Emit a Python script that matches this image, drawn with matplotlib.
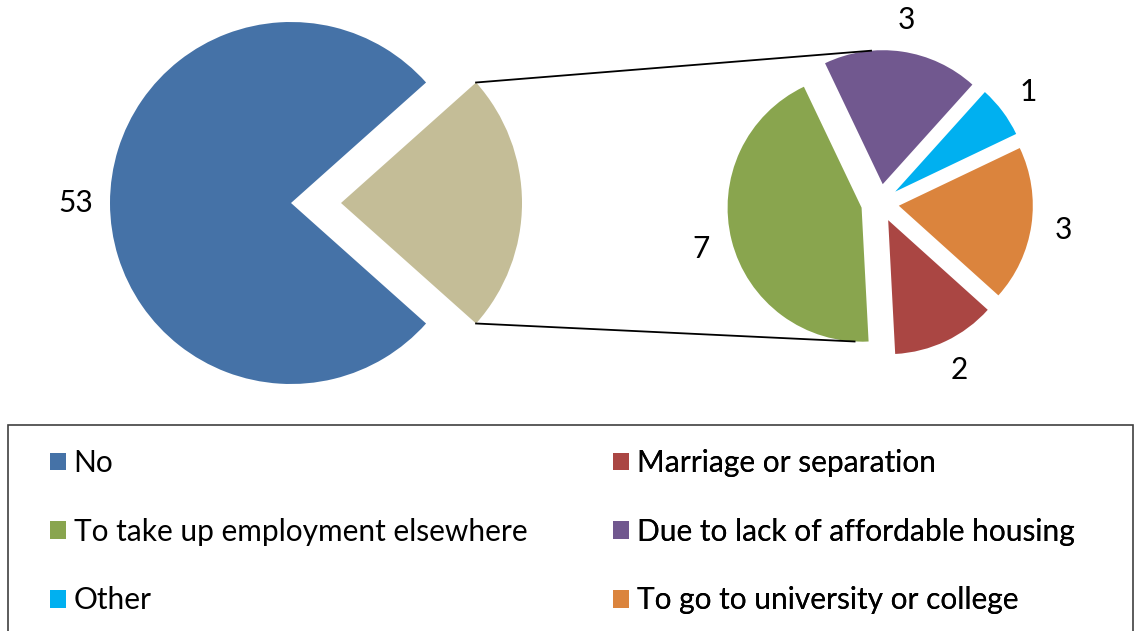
import numpy as np
import matplotlib.pyplot as plt
from matplotlib.patches import Patch, Rectangle

plt.rcParams['font.family'] = 'Lato'

# Main pie: "No" against all reasons for moving, combined into one slice
main_labels = ['No', 'Reasons for moving']
main_values = [53, 16]
main_colors = ['#4572A7', '#C4BD97']

# Breakdown of the combined slice, drawn as the second pie
reason_labels = ['To take up employment elsewhere', 'Marriage or separation',
                 'To go to university or college', 'Other',
                 'Due to lack of affordable housing']
reason_values = [7, 2, 3, 1, 3]
reason_colors = ['#89A54E', '#AA4643', '#DB843D', '#00B0F0', '#71588F']

legend_left = ['No', 'To take up employment elsewhere', 'Other']
legend_right = ['Marriage or separation', 'Due to lack of affordable housing',
                'To go to university or college']

color_of = dict(zip(main_labels + reason_labels, main_colors + reason_colors))

fig = plt.figure(figsize=(11.37, 6.31), dpi=100)
ax = fig.add_axes([0, 0, 1, 1])

total = sum(main_values)
sub_total = sum(reason_values)
fs = 21.5

# axes units are pixels here, so explode is given in pixels too
main_r = 181
main_wedges, _, main_auto = ax.pie(
    main_values, colors=main_colors, center=(291, 428), radius=main_r,
    startangle=180 * main_values[1] / total, explode=[0, 50],
    autopct=lambda p: f'{round(p * total / 100)}' if p > 50 else '',
    pctdistance=1.19, textprops=dict(fontsize=fs, color='black'))

sub_r = 134
sub_wedges, _, sub_auto = ax.pie(
    reason_values, colors=reason_colors, center=(880, 428), radius=sub_r,
    startangle=115.5, explode=[19] * len(reason_values),
    autopct=lambda p: f'{round(p * sub_total / 100)}',
    pctdistance=1.24, textprops=dict(fontsize=fs, color='black'))


def arc_point(w, ang):
    t = np.deg2rad(ang)
    return w.center[0] + w.r * np.cos(t), w.center[1] + w.r * np.sin(t)


# connector lines from the combined slice to the breakdown pie
other = main_wedges[1]
top_a = arc_point(other, other.theta2)
bot_a = arc_point(other, other.theta1)
top_b = arc_point(sub_wedges[4], 95)
bot_b = arc_point(sub_wedges[0], 267)
ax.plot([top_a[0], top_b[0]], [top_a[1], top_b[1]], color='black', lw=1.3)
ax.plot([bot_a[0], bot_b[0]], [bot_a[1], bot_b[1]], color='black', lw=1.3)

ax.set_xlim(0, 1137)
ax.set_ylim(0, 631)
ax.set_aspect('equal')
ax.axis('off')

# legend box (runs off the bottom edge)
ax.add_patch(Rectangle((8, -20), 1125, 631 - 425 + 20, fill=False,
                       ec='#404040', lw=1.2, clip_on=False))

for names, x in [(legend_left, 50), (legend_right, 613)]:
    handles = [Patch(facecolor=color_of[n], edgecolor='none') for n in names]
    leg = ax.legend(handles, names, loc='upper left', bbox_to_anchor=(x, 631 - 449),
                    bbox_transform=ax.transData, frameon=False, fontsize=fs,
                    borderpad=0, borderaxespad=0, handlelength=0.54,
                    handleheight=0.54, handletextpad=0.25, labelspacing=1.36)
    ax.add_artist(leg)

fig.savefig('out.png', dpi=100)
